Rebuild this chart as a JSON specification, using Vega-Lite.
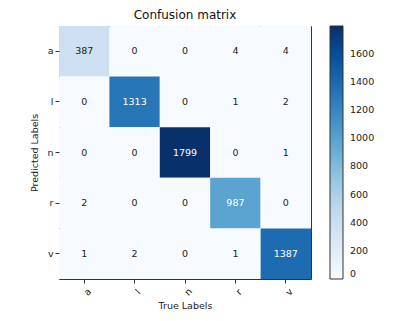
{
  "$schema": "https://vega.github.io/schema/vega-lite/v6.json",
  "width": 252,
  "height": 253,
  "autosize": {"type": "none"},
  "padding": {"left": 59, "top": 26, "right": 109, "bottom": 42},
  "title": {"text": "Confusion matrix", "font": "DejaVu Sans", "fontSize": 12, "fontWeight": "normal", "color": "#111", "offset": 4},
  "data": {"values": [
    {"pred": "a", "true": "a", "value": 387},
    {"pred": "a", "true": "l", "value": 0},
    {"pred": "a", "true": "n", "value": 0},
    {"pred": "a", "true": "r", "value": 4},
    {"pred": "a", "true": "v", "value": 4},
    {"pred": "l", "true": "a", "value": 0},
    {"pred": "l", "true": "l", "value": 1313},
    {"pred": "l", "true": "n", "value": 0},
    {"pred": "l", "true": "r", "value": 1},
    {"pred": "l", "true": "v", "value": 2},
    {"pred": "n", "true": "a", "value": 0},
    {"pred": "n", "true": "l", "value": 0},
    {"pred": "n", "true": "n", "value": 1799},
    {"pred": "n", "true": "r", "value": 0},
    {"pred": "n", "true": "v", "value": 1},
    {"pred": "r", "true": "a", "value": 2},
    {"pred": "r", "true": "l", "value": 0},
    {"pred": "r", "true": "n", "value": 0},
    {"pred": "r", "true": "r", "value": 987},
    {"pred": "r", "true": "v", "value": 0},
    {"pred": "v", "true": "a", "value": 1},
    {"pred": "v", "true": "l", "value": 2},
    {"pred": "v", "true": "n", "value": 0},
    {"pred": "v", "true": "r", "value": 1},
    {"pred": "v", "true": "v", "value": 1387}
  ]},
  "encoding": {
    "x": {"field": "true", "type": "nominal", "sort": ["a", "l", "n", "r", "v"],
      "scale": {"paddingInner": 0, "paddingOuter": 0},
      "axis": {"title": "True Labels", "labelAngle": -45, "labelAlign": "center", "labelBaseline": "top", "labelPadding": 5, "titlePadding": 4}},
    "y": {"field": "pred", "type": "nominal", "sort": ["a", "l", "n", "r", "v"],
      "scale": {"paddingInner": 0, "paddingOuter": 0},
      "axis": {"title": "Predicted Labels", "labelAngle": 0, "titlePadding": 7}}
  },
  "layer": [
    {
      "mark": {"type": "rect", "strokeWidth": 0},
      "encoding": {
        "color": {"field": "value", "type": "quantitative",
          "scale": {"domain": [0, 1799], "range": ["#f7fbff", "#deebf7", "#c6dbef", "#9ecae1", "#6baed6", "#4292c6", "#2171b5", "#08519c", "#08306b"], "interpolate": "rgb"},
          "legend": {"title": null, "orient": "none", "legendX": 271, "legendY": 0, "direction": "vertical", "gradientLength": 253, "gradientThickness": 13, "gradientStrokeColor": "#333", "gradientStrokeWidth": 1, "values": [0, 200, 400, 600, 800, 1000, 1200, 1400, 1600], "format": "d", "labelFont": "DejaVu Sans", "labelFontSize": 9.5, "labelColor": "#222", "labelOffset": 7}}
      }
    },
    {
      "mark": {"type": "text", "font": "DejaVu Sans", "fontSize": 9.5},
      "encoding": {
        "text": {"field": "value", "type": "quantitative", "format": "d"},
        "color": {"condition": {"test": "datum.value > 899.5", "value": "white"}, "value": "#222"}
      }
    }
  ],
  "config": {
    "view": {"stroke": "#333", "strokeWidth": 1},
    "axis": {"labelFont": "DejaVu Sans", "titleFont": "DejaVu Sans", "labelFontSize": 9.5, "titleFontSize": 9.5, "titleFontWeight": "normal", "labelColor": "#222", "titleColor": "#222", "domain": false, "tickColor": "#333", "tickSize": 4, "grid": false},
    "background": "white"
  }
}
